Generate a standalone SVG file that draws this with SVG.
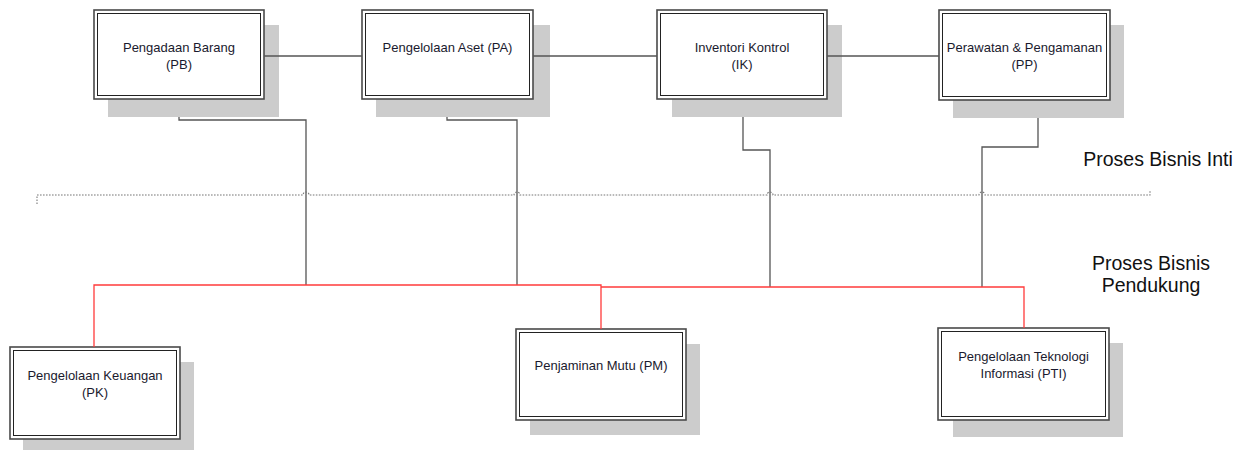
<svg xmlns="http://www.w3.org/2000/svg" width="1245" height="450" viewBox="0 0 1245 450">
<defs>
<style>
.shadow{fill:#cccccc;stroke:none}
.outer{fill:#ffffff;stroke:#4a4a4a;stroke-width:1.6}
.inner{fill:#ffffff;stroke:#222222;stroke-width:1}
.lbl{font-family:"Liberation Sans",Arial,sans-serif;font-size:13px;fill:#1a1a2e;text-anchor:middle}
.big{font-family:"Liberation Sans",Arial,sans-serif;font-size:19.5px;fill:#111111;text-anchor:middle}
.conn{fill:none;stroke:#555555;stroke-width:1.3}
.red{fill:none;stroke:#ff3b3b;stroke-width:1.3}
.dot{fill:none;stroke:#777777;stroke-width:1.1;stroke-dasharray:1.6,1.4}
</style>
</defs>
<rect width="1245" height="450" fill="#ffffff"/>

<g id="node-PB">
<rect class="shadow" x="108" y="25" width="171" height="92"/>
<rect class="outer" x="94" y="10" width="170" height="89"/>
<rect class="inner" x="97.5" y="13.5" width="163" height="82"/>
<text class="lbl" x="179" y="52">Pengadaan Barang</text>
<text class="lbl" x="179" y="69">(PB)</text>
</g>
<g id="node-PA">
<rect class="shadow" x="376" y="25" width="174" height="92"/>
<rect class="outer" x="362" y="10" width="171" height="89"/>
<rect class="inner" x="365.5" y="13.5" width="164" height="82"/>
<text class="lbl" x="447.5" y="52">Pengelolaan Aset (PA)</text>
</g>
<g id="node-IK">
<rect class="shadow" x="672" y="25" width="170" height="92"/>
<rect class="outer" x="657" y="10" width="170" height="89"/>
<rect class="inner" x="660.5" y="13.5" width="163" height="82"/>
<text class="lbl" x="742" y="52">Inventori Kontrol</text>
<text class="lbl" x="742" y="69">(IK)</text>
</g>
<g id="node-PP">
<rect class="shadow" x="953" y="25" width="171" height="93"/>
<rect class="outer" x="939" y="10" width="171" height="90"/>
<rect class="inner" x="942.5" y="13.5" width="164" height="83"/>
<text class="lbl" x="1024.5" y="52">Perawatan &amp; Pengamanan</text>
<text class="lbl" x="1024.5" y="69">(PP)</text>
</g>

<g id="node-PK">
<rect class="shadow" x="23" y="362" width="171" height="95"/>
<rect class="outer" x="10" y="347" width="170" height="92"/>
<rect class="inner" x="13.5" y="350.5" width="163" height="85"/>
<text class="lbl" x="95" y="380">Pengelolaan Keuangan</text>
<text class="lbl" x="95" y="397">(PK)</text>
</g>
<g id="node-PM">
<rect class="shadow" x="530" y="344" width="170" height="91"/>
<rect class="outer" x="516" y="329" width="170" height="91"/>
<rect class="inner" x="519.5" y="332.5" width="163" height="84"/>
<text class="lbl" x="601" y="370">Penjaminan Mutu (PM)</text>
</g>
<g id="node-PTI">
<rect class="shadow" x="953" y="343" width="170" height="94"/>
<rect class="outer" x="938" y="328" width="171" height="92"/>
<rect class="inner" x="941.5" y="331.5" width="164" height="85"/>
<text class="lbl" x="1023.5" y="361">Pengelolaan Teknologi</text>
<text class="lbl" x="1023.5" y="378">Informasi (PTI)</text>
</g>

<g id="connectors">
<path class="conn" d="M264,56 H362 M533,56 H657 M827,56 H939"/>
<path class="conn" d="M179,117 V120 H306 V285"/>
<path class="conn" d="M447,117 V120 H517 V285"/>
<path class="conn" d="M743,117 V150 H770 V287"/>
<path class="conn" d="M1038,118 V147 H982 V287"/>
<path class="red" d="M94,347 V285 H601 V329"/>
<path class="red" d="M601,287 H1024 V328"/>
<path class="dot" d="M37,204 V195 H303 A3,3 0 0 1 309,195 H514 A3,3 0 0 1 520,195 H767 A3,3 0 0 1 773,195 H979 A3,3 0 0 1 985,195 H1150 V191"/>
</g>

<g id="labels">
<text class="big" x="1158" y="166">Proses Bisnis Inti</text>
<text class="big" x="1151" y="270">Proses Bisnis</text>
<text class="big" x="1151" y="292">Pendukung</text>
</g>
</svg>
